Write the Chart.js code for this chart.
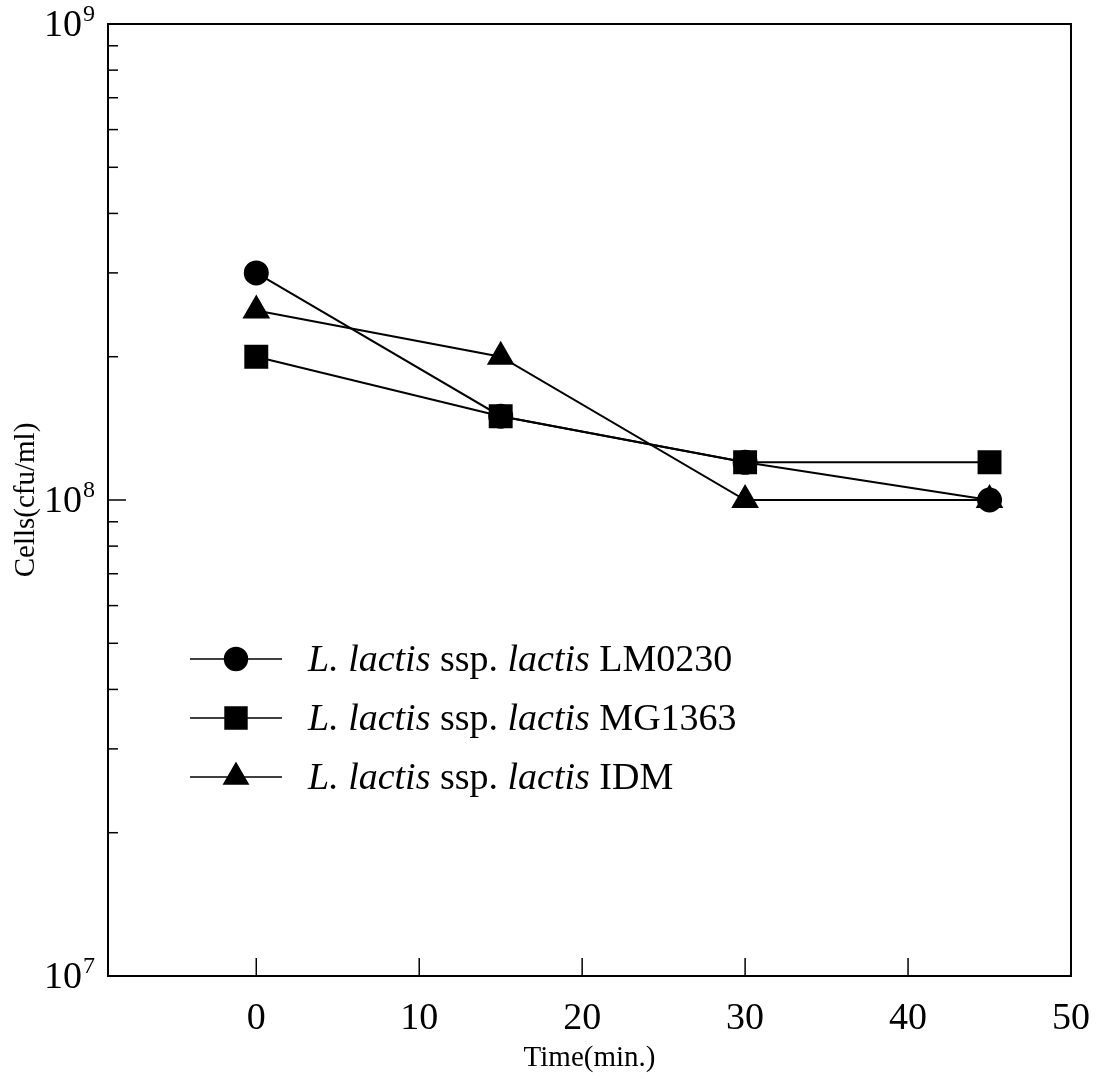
<!DOCTYPE html>
<html>
<head>
<meta charset="utf-8">
<script src="https://cdn.jsdelivr.net/npm/chart.js@4/dist/chart.umd.min.js"></script>
<style>
  body { margin: 0; background: #fff; }
  #chart { display: block; }
</style>
</head>
<body>
<canvas id="chart" width="1100" height="1079"></canvas>
<script>
// data
const times = [0, 15, 30, 45];
const lm0230 = [3.0e8, 1.5e8, 1.2e8, 1.0e8];
const mg1363 = [2.0e8, 1.5e8, 1.2e8, 1.2e8];
const idm = [2.5e8, 2.0e8, 1.0e8, 1.0e8];
const strainNames = ["LM0230", "MG1363", "IDM"];
const xTickValues = [0, 10, 20, 30, 40, 50];
const yDecades = [7, 8, 9];

const SERIF = "'Liberation Serif', 'Times New Roman', serif";

function toPoints(ys) {
  return times.map((t, i) => ({ x: t, y: ys[i] }));
}

// frame, inward ticks, y labels with exponents and the legend
const drawExtras = {
  id: "drawExtras",
  afterDraw(chart) {
    const ctx = chart.ctx;
    const area = chart.chartArea;
    const xs = chart.scales.x;
    const ys = chart.scales.y;
    ctx.save();
    ctx.strokeStyle = "#000";
    ctx.lineWidth = 2;
    ctx.strokeRect(area.left, area.top, area.right - area.left, area.bottom - area.top);

    // y ticks (inward, left side)
    ctx.lineWidth = 1.5;
    ys.ticks.forEach((tk) => {
      const p = ys.getPixelForValue(tk.value);
      const lg = Math.log10(tk.value);
      const major = Math.abs(lg - Math.round(lg)) < 1e-9;
      const len = major ? 18 : 10;
      ctx.beginPath();
      ctx.moveTo(area.left, p);
      ctx.lineTo(area.left + len, p);
      ctx.stroke();
    });
    // x ticks (inward, bottom)
    xTickValues.forEach((v) => {
      if (v >= 50) return;
      const p = xs.getPixelForValue(v);
      ctx.beginPath();
      ctx.moveTo(p, area.bottom);
      ctx.lineTo(p, area.bottom - 18);
      ctx.stroke();
    });

    // y labels 10^n
    ctx.fillStyle = "#000";
    yDecades.forEach((e) => {
      const p = ys.getPixelForValue(Math.pow(10, e));
      ctx.font = "38px " + SERIF;
      ctx.textAlign = "right";
      ctx.textBaseline = "middle";
      ctx.fillText("10", 82, p + 2);
      ctx.font = "24px " + SERIF;
      ctx.textAlign = "left";
      ctx.fillText(String(e), 83, p - 9);
    });

    // legend
    const rowsY = [659, 718, 777];
    const sets = [0, 1, 2];
    sets.forEach((di, r) => {
      const ds = chart.data.datasets[di];
      const y = rowsY[r];
      ctx.strokeStyle = "#000";
      ctx.lineWidth = 1.5;
      ctx.beginPath();
      ctx.moveTo(190, y);
      ctx.lineTo(282, y);
      ctx.stroke();
      ctx.fillStyle = "#000";
      Chart.helpers.drawPoint(ctx, { pointStyle: ds.pointStyle, radius: ds.pointRadius, rotation: 0, borderWidth: 1 }, 236, y);
      const parts = [
        ["L. lactis", true],
        [" ssp. ", false],
        ["lactis", true],
        [" " + strainNames[di], false]
      ];
      let x = 308;
      ctx.textAlign = "left";
      ctx.textBaseline = "middle";
      parts.forEach(([txt, it]) => {
        ctx.font = (it ? "italic " : "") + "38px " + SERIF;
        ctx.fillText(txt, x, y + 2);
        x += ctx.measureText(txt).width;
      });
    });
    ctx.restore();
  }
};

const common = {
  borderColor: "#000",
  backgroundColor: "#000",
  pointBackgroundColor: "#000",
  pointBorderColor: "#000",
  borderWidth: 2,
  fill: false,
  tension: 0
};

new Chart(document.getElementById("chart"), {
  type: "line",
  data: {
    datasets: [
      Object.assign({ label: strainNames[0], data: toPoints(lm0230), pointStyle: "circle", pointRadius: 11.5, order: 1 }, common),
      Object.assign({ label: strainNames[1], data: toPoints(mg1363), pointStyle: "rect", pointRadius: 15.5, order: 0 }, common),
      Object.assign({ label: strainNames[2], data: toPoints(idm), pointStyle: "triangle", pointRadius: 14, order: 2 }, common)
    ]
  },
  options: {
    responsive: false,
    animation: false,
    events: [],
    layout: { padding: { top: 24, right: 29, left: 0, bottom: 0 } },
    plugins: { legend: { display: false }, tooltip: { enabled: false } },
    scales: {
      x: {
        type: "linear",
        min: -9.1,
        max: 50,
        afterBuildTicks: (s) => { s.ticks = xTickValues.map((v) => ({ value: v })); },
        afterFit: (s) => { s.height = 103; s.paddingLeft = 0; s.paddingRight = 0; },
        grid: { display: false },
        border: { display: false },
        ticks: { color: "#000", font: { family: SERIF, size: 38 }, padding: 12, maxRotation: 0, autoSkip: false },
        title: { display: true, text: "Time(min.)", color: "#000", font: { family: SERIF, size: 29 }, padding: { top: 0, bottom: 3 } }
      },
      y: {
        type: "logarithmic",
        min: 1e7,
        max: 1e9,
        afterBuildTicks: (s) => {
          const t = [];
          for (let e = 7; e < 9; e++) {
            for (let m = 1; m <= 9; m++) t.push({ value: m * Math.pow(10, e) });
          }
          t.push({ value: 1e9 });
          s.ticks = t;
        },
        afterFit: (s) => { s.width = 108; s.paddingTop = 0; s.paddingBottom = 0; },
        grid: { display: false },
        border: { display: false },
        ticks: { display: false },
        title: { display: true, text: "Cells(cfu/ml)", color: "#000", font: { family: SERIF, size: 29 }, padding: { top: 9, bottom: 0 } }
      }
    }
  },
  plugins: [drawExtras]
});
</script>
</body>
</html>
